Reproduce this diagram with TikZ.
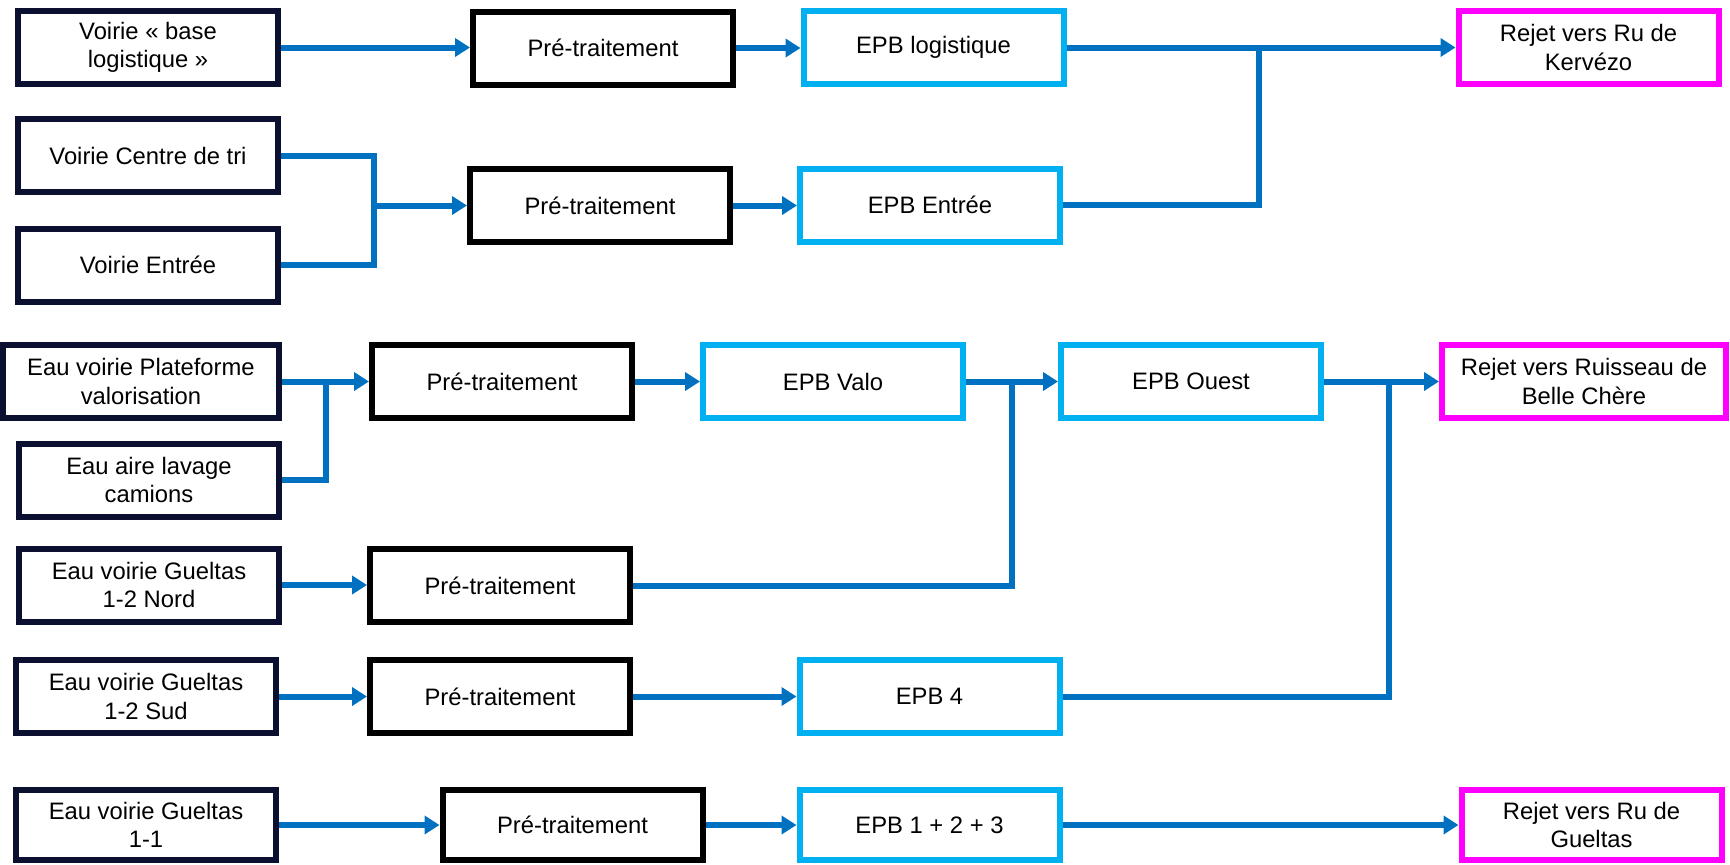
\documentclass[tikz,border=0pt]{standalone}
\usepackage{fontspec}
\setmainfont{Liberation Sans}
\usetikzlibrary{arrows.meta}
\definecolor{navy}{RGB}{12,16,48}
\definecolor{epbblue}{RGB}{0,176,240}
\definecolor{rejmag}{RGB}{255,0,255}
\definecolor{flow}{RGB}{0,112,192}
\tikzset{
  box/.style={draw, line width=3pt, minimum width=130pt, minimum height=36.5pt,
    inner sep=1pt, align=center, fill=white, text=black,
    font=\fontsize{11.9pt}{14.2pt}\selectfont},
  src/.style={box, draw=navy},
  pre/.style={box, draw=black},
  epb/.style={box, draw=epbblue},
  rej/.style={box, draw=rejmag},
  flowline/.style={draw=flow, line width=3pt},
  flowarrow/.style={flowline, -{Triangle[length=7.5pt,width=9pt]}},
}
\begin{document}
\begin{tikzpicture}[x=0.5pt, y=-0.5pt]
\useasboundingbox (0,0) rectangle (1730,864);
% row 1 & 2
\node[src] (vbase) at (148,47.5) {Voirie « base\\logistique »};
\node[pre] (pt1) at (603,48) {Pré-traitement};
\node[epb] (epblog) at (933.5,47.5) {EPB logistique};
\node[rej] (rejk) at (1588.5,47.5) {Rejet vers Ru de\\Kervézo};
\node[src] (vcentre) at (148,155.5) {Voirie Centre de tri};
\node[src] (ventree) at (148,265) {Voirie Entrée};
\node[pre] (pt2) at (600,205.5) {Pré-traitement};
\node[epb] (epbentree) at (930,205) {EPB Entrée};
% row 3
\node[src, minimum width=138pt] (eplat) at (141,381.5) {Eau voirie Plateforme\\valorisation};
\node[src] (lavage) at (149,480) {Eau aire lavage\\camions};
\node[pre] (pt3) at (502,381.5) {Pré-traitement};
\node[epb] (epbvalo) at (833,381.5) {EPB Valo};
\node[epb] (epbouest) at (1191,381.5) {EPB Ouest};
\node[rej, minimum width=142pt] (rejbc) at (1584,381.5) {Rejet vers Ruisseau de\\Belle Chère};
% row 4
\node[src] (nord) at (149,585) {Eau voirie Gueltas\\1-2 Nord};
\node[pre] (pt4) at (500,585.5) {Pré-traitement};
% row 5
\node[src] (sud) at (146,696.5) {Eau voirie Gueltas\\1-2 Sud};
\node[pre] (pt5) at (500,696.5) {Pré-traitement};
\node[epb] (epb4) at (929.5,696.5) {EPB 4};
% row 6
\node[src, minimum height=35pt] (g11) at (146,825) {Eau voirie Gueltas\\1-1};
\node[pre, minimum height=35pt] (pt6) at (572.5,825) {Pré-traitement};
\node[epb, minimum height=35pt] (epb123) at (929.5,825) {EPB 1 + 2 + 3};
\node[rej, minimum height=35pt] (rejg) at (1591.5,825) {Rejet vers Ru de\\Gueltas};
% junctions
\coordinate (j1) at (1259,48);
\coordinate (j2) at (374,205.5);
\coordinate (j3) at (326,382);
\coordinate (j4) at (1012,382);
\coordinate (j5) at (1389,382);
% connectors
\draw[flowarrow] (vbase.east) -- (vbase.east -| pt1.west);
\draw[flowarrow] (pt1.east) -- (pt1.east -| epblog.west);
\draw[flowarrow] (epblog.east) -- (epblog.east -| rejk.west);
\draw[flowline] (epbentree.east) -| (j1);
\draw[flowline] (vcentre.east) -| (j2) |- (ventree.east);
\draw[flowarrow] (j2) -- (j2 -| pt2.west);
\draw[flowarrow] (pt2.east) -- (pt2.east -| epbentree.west);
\draw[flowline] (lavage.east) -| (j3);
\draw[flowarrow] (eplat.east) -- (eplat.east -| pt3.west);
\draw[flowarrow] (pt3.east) -- (pt3.east -| epbvalo.west);
\draw[flowline] (pt4.east) -| (j4);
\draw[flowarrow] (epbvalo.east) -- (epbvalo.east -| epbouest.west);
\draw[flowline] (epb4.east) -| (j5);
\draw[flowarrow] (epbouest.east) -- (epbouest.east -| rejbc.west);
\draw[flowarrow] (nord.east) -- (nord.east -| pt4.west);
\draw[flowarrow] (sud.east) -- (sud.east -| pt5.west);
\draw[flowarrow] (pt5.east) -- (pt5.east -| epb4.west);
\draw[flowarrow] (g11.east) -- (g11.east -| pt6.west);
\draw[flowarrow] (pt6.east) -- (pt6.east -| epb123.west);
\draw[flowarrow] (epb123.east) -- (epb123.east -| rejg.west);
\end{tikzpicture}
\end{document}
